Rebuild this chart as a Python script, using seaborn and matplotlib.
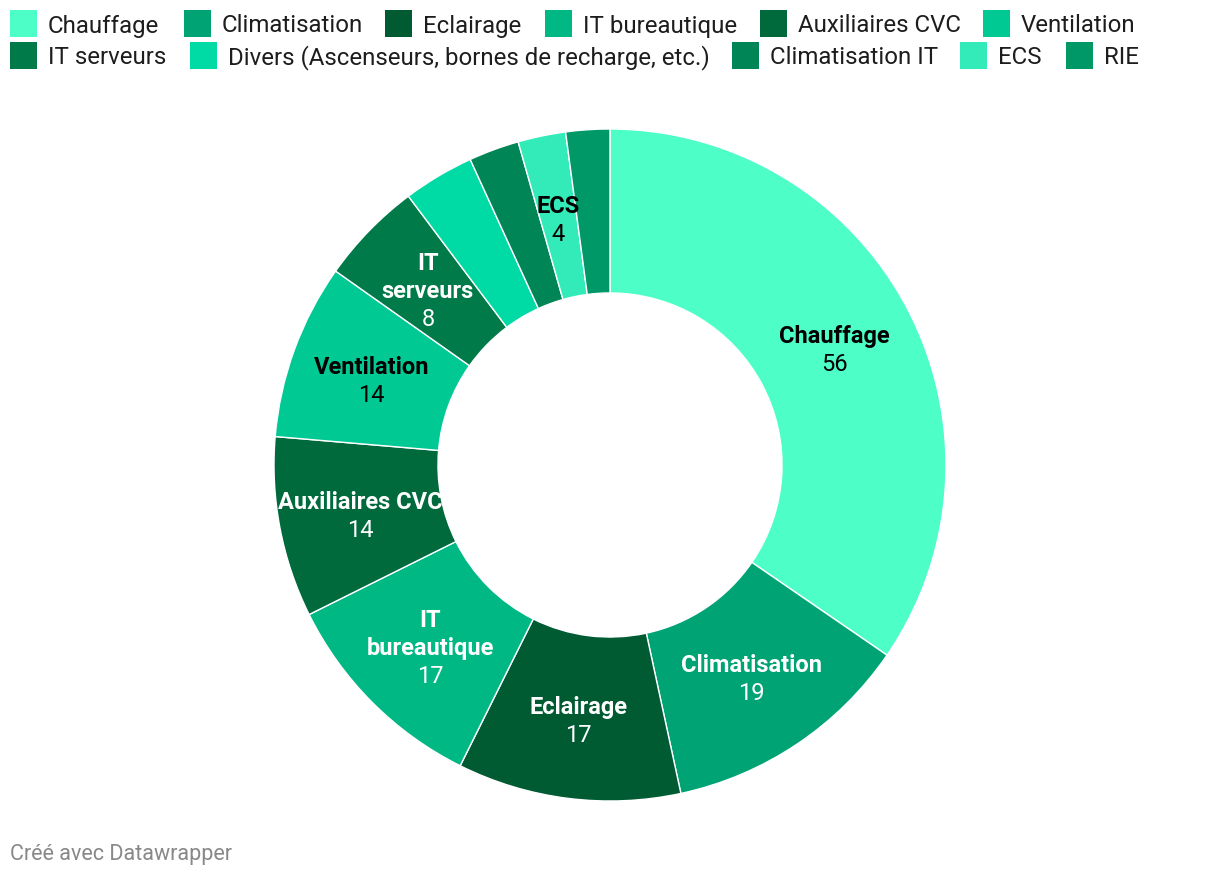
import matplotlib
matplotlib.use("Agg")
import matplotlib.pyplot as plt
import seaborn as sns
import numpy as np
from matplotlib.patches import Rectangle

categories = ["Chauffage", "Climatisation", "Eclairage", "IT bureautique", "Auxiliaires CVC",
              "Ventilation", "IT serveurs", "Divers (Ascenseurs, bornes de recharge, etc.)",
              "Climatisation IT", "ECS", "RIE"]
values = [55.7, 19.4, 17.3, 16.6, 14.0, 13.6, 8.0, 5.5, 3.9, 3.7, 3.4]
colors = ["#4dffc7", "#00a374", "#005a32", "#00b884", "#006a3c", "#00c994",
          "#007a48", "#00daa5", "#008556", "#33ebb8", "#009866"]
# label text inside the ring (None = no label)
slice_labels = ["Chauffage", "Climatisation", "Eclairage", "IT\nbureautique", "Auxiliaires CVC",
                "Ventilation", "IT\nserveurs", None, None, "ECS", None]
dark_text = ["Chauffage", "Ventilation", "ECS"]

sns.set_theme(style="white")
plt.rcParams["font.family"] = ["Roboto", "DejaVu Sans"]

W, H = 1220, 878
fig = plt.figure(figsize=(W / 100, H / 100), dpi=100)
fig.patch.set_facecolor("white")

cx, cy, R = 610, 466, 336
ax = fig.add_axes([(cx - R) / W, (H - cy - R) / H, 2 * R / W, 2 * R / H])
wedges, _ = ax.pie(values, colors=colors, startangle=90, counterclock=False, radius=1,
                   wedgeprops=dict(width=0.488, edgecolor="white", linewidth=1))
ax.set_xlim(-1, 1)
ax.set_ylim(-1, 1)
ax.set_aspect("equal")
ax.axis("off")

total = sum(values)
start = 90.0
r_lab = 0.756
step = 28
for v, lab, c in zip(values, slice_labels, categories):
    ang = start - v / total * 360 / 2
    start -= v / total * 360
    if lab is None:
        continue
    x = r_lab * np.cos(np.radians(ang))
    y = r_lab * np.sin(np.radians(ang))
    col = "black" if c in dark_text else "white"
    lines = lab.split("\n")
    k = len(lines) + 1
    for i, line in enumerate(lines + [f"{round(v)}"]):
        off = (k - 1) / 2 * step - i * step - 3
        ax.annotate(line, (x, y), xytext=(0, off), textcoords="offset pixels",
                    ha="center", va="center", fontsize=17,
                    fontweight="bold" if i < len(lines) else "normal", color=col)

# legend, flow layout in two rows
legend_pos = [(10, 24), (184, 24), (385, 24), (545, 24), (760, 24), (983, 24),
              (10, 56), (190, 56), (732, 56), (960, 56), (1066, 56)]
for (lx, ly), c, name in zip(legend_pos, colors, categories):
    fig.patches.append(Rectangle((lx / W, (H - ly - 13.5) / H), 27 / W, 27 / H,
                                 transform=fig.transFigure, facecolor=c, edgecolor="none"))
    fig.text((lx + 38) / W, (H - ly - 2) / H, name, fontsize=17.3, color="#1d1d1d",
             ha="left", va="center")

fig.text(10 / W, (H - 855) / H, "Créé avec Datawrapper", fontsize=15.5, color="#888888",
         ha="left", va="center")

fig.savefig("out.png", dpi=100, facecolor="white")
